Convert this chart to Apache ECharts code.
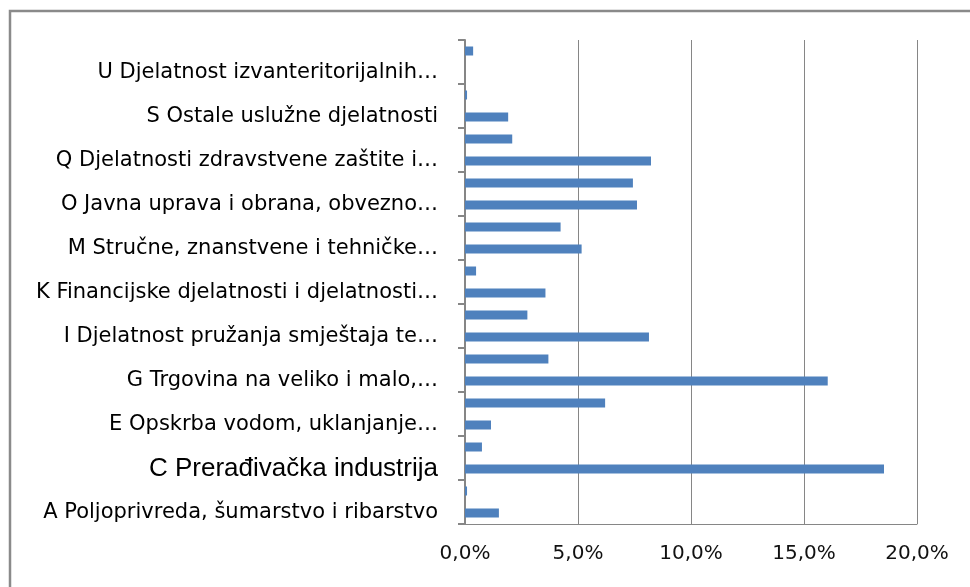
<!DOCTYPE html>
<html>
<head>
<meta charset="utf-8">
<style>
  html, body { margin: 0; padding: 0; background: #fff; }
  #bar-chart { width: 970px; height: 587px; }
</style>
<script src="https://cdn.jsdelivr.net/npm/echarts@6/dist/echarts.min.js"></script>
</head>
<body>
<div id="bar-chart"></div>
<script>
// ==============================================================
// Data - share by NACE section (A at bottom)
// ==============================================================
var categories = [
    'A Poljoprivreda, šumarstvo i ribarstvo',
    'B Rudarstvo i vađenje',
    'C Prerađivačka industrija',
    'D Opskrba električnom energijom, plinom, parom…',
    'E Opskrba vodom, uklanjanje…',
    'F Građevinarstvo',
    'G Trgovina na veliko i malo,…',
    'H Prijevoz i skladištenje',
    'I Djelatnost pružanja smještaja te…',
    'J Informacije i komunikacije',
    'K Financijske djelatnosti i djelatnosti…',
    'L Poslovanje nekretninama',
    'M Stručne, znanstvene i tehničke…',
    'N Administrativne i pomoćne uslužne…',
    'O Javna uprava i obrana, obvezno…',
    'P Obrazovanje',
    'Q Djelatnosti zdravstvene zaštite i…',
    'R Umjetnost, zabava i rekreacija',
    'S Ostale uslužne djelatnosti',
    'T Djelatnosti kućanstava kao poslodavaca…',
    'U Djelatnost izvanteritorijalnih…',
    'Nepoznato'
];
var shares = [1.50, 0.09, 18.54, 0.75, 1.15, 6.20, 16.05, 3.69, 8.14, 2.76, 3.56,
              0.49, 5.16, 4.23, 7.61, 7.43, 8.23, 2.09, 1.91, 0.09, 0, 0.36];
var tickValues = [0, 5, 10, 15, 20];

var myChart = echarts.init(document.getElementById('bar-chart'));

option = {
    animation: false,
    grid: { left: 465, right: 53, top: 40, bottom: 63 },
    graphic: [
        {
            type: 'rect',
            shape: { x: 10, y: 11, width: 1000, height: 1000 },
            style: { fill: 'none', stroke: '#8a8a8a', lineWidth: 2.5 }
        }
    ],
    xAxis: [
        {
            type: 'value',
            min: tickValues[0],
            max: tickValues[tickValues.length - 1],
            interval: 5,
            axisLine: { show: true, lineStyle: { color: '#868686', width: 1 } },
            axisTick: { show: false },
            splitLine: { lineStyle: { color: '#868686', width: 1 } },
            axisLabel: {
                margin: 20,
                color: '#111',
                fontFamily: 'DejaVu Sans',
                fontSize: 20,
                formatter: function (v) { return v.toFixed(1).replace('.', ',') + '%'; }
            }
        }
    ],
    yAxis: [
        {
            type: 'category',
            data: categories,
            axisLine: { lineStyle: { color: '#868686', width: 2 } },
            axisTick: { show: true, length: 7, lineStyle: { color: '#868686', width: 2 } },
            axisLabel: {
                interval: 1,
                margin: 27,
                color: '#000',
                fontFamily: 'DejaVu Sans',
                fontSize: 21,
                formatter: function (v) {
                    return v.charAt(0) === 'C' ? '{big|' + v + '}' : v;
                },
                rich: {
                    big: { fontFamily: 'Liberation Sans', fontSize: 26, color: '#000' }
                }
            }
        }
    ],
    series: [
        {
            name: 'Udio',
            type: 'bar',
            data: shares,
            barWidth: 9,
            itemStyle: { color: '#4f81bd' }
        }
    ]
};

myChart.setOption(option, true);
</script>
</body>
</html>
